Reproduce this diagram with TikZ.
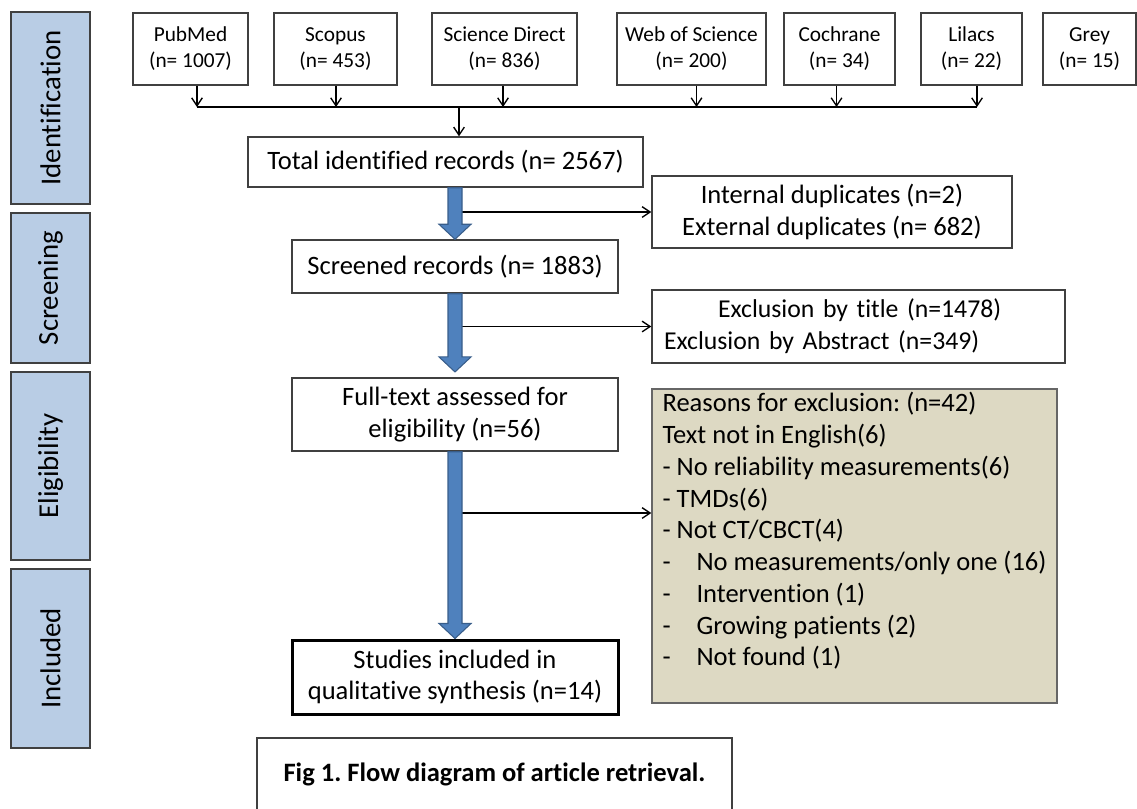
\documentclass[tikz,border=0pt]{standalone}
\usepackage{fontspec}
\setmainfont{Carlito}[Ligatures=NoCommon]
\usetikzlibrary{arrows.meta,calc}

\definecolor{boxgray}{HTML}{404040}
\definecolor{stageblue}{HTML}{B9CDE5}
\definecolor{arrowblue}{HTML}{4F81BD}
\definecolor{arrowedge}{HTML}{385D8A}
\definecolor{reasontan}{HTML}{DDD9C3}
\newdimen\pxu \pxu=0.75pt

\newcommand{\bluearrow}[2]{%
	\draw[bluearrow] ($(#1)+(-7,0)$) -- ($(#2)+(-7,-15)$) -- ($(#2)+(-16,-15)$) -- (#2) -- ($(#2)+(16,-15)$) -- ($(#2)+(7,-15)$) -- ($(#1)+(7,0)$) -- cycle;}

\begin{document}
\frenchspacing
\begin{tikzpicture}[x=0.75pt,y=-0.75pt,
		box/.style={draw=boxgray,line width=1.1pt,fill=white,inner sep=0pt,align=center,font=\fontsize{19.9}{23.8}\selectfont},
		srcbox/.style={box,minimum height=72\pxu,font=\fontsize{16}{19.5}\selectfont},
		stagebar/.style={draw=boxgray,line width=1.1pt,fill=stageblue,rotate=90,minimum height=79\pxu,inner sep=0pt,font=\fontsize{21.6}{25}\selectfont},
		thinarrow/.style={line width=1pt,-{Straight Barb[length=6pt,width=8pt]}},
		bluearrow/.style={fill=arrowblue,draw=arrowedge,line width=0.8pt}]
		\useasboundingbox (0,0) rectangle (1137,808);
		
		\node[stagebar,minimum width=192\pxu] (ident) at (50.5,108) {Identification};
		\node[stagebar,minimum width=150\pxu] (screen) at (50.5,288) {Screening};
		\node[stagebar,minimum width=188\pxu] (elig) at (50.5,466) {Eligibility};
		\node[stagebar,minimum width=179\pxu] (incl) at (50.5,658.5) {Included};
		
		\node[srcbox,minimum width=115\pxu] (pubmed) at (190.5,49) {PubMed\\(n= 1007)};
		\node[srcbox,minimum width=123\pxu] (scopus) at (335.5,49) {Scopus\\(n= 453)};
		\node[srcbox,minimum width=145\pxu] (scidir) at (504.5,49) {Science Direct\\(n= 836)};
		\node[srcbox,minimum width=149\pxu] (wos) at (691.5,49) {Web of Science\\(n= 200)};
		\node[srcbox,minimum width=111\pxu] (cochrane) at (839.5,49) {Cochrane\\(n= 34)};
		\node[srcbox,minimum width=101\pxu] (lilacs) at (971.5,49) {Lilacs\\(n= 22)};
		\node[srcbox,minimum width=93\pxu] (grey) at (1089.5,49) {Grey\\(n= 15)};
		
		\coordinate (bus) at (0,107);
		\foreach \src/\dx in {pubmed/6.5,scopus/0.5,scidir/-1.5,wos/5,cochrane/-3,lilacs/5.5}{
			\coordinate (\src-a) at ([xshift=\dx\pxu]\src.south);
			\draw[thinarrow] (\src-a) -- (\src-a |- bus);
		}
		\draw[line width=1pt] (pubmed-a |- bus) -- (lilacs-a |- bus);
		
		\node[box,minimum width=395\pxu,minimum height=50\pxu] (total) at (445.5,162) {Total identified records (n= 2567)};
		\coordinate (total-a) at ([xshift=13.5\pxu]total.north);
		\draw[thinarrow] (total-a |- bus) -- (total-a);
		
		\node[box,minimum width=326\pxu,minimum height=53\pxu] (screened) at (455,266.5) {Screened records (n= 1883)};
		\node[box,minimum width=326\pxu,minimum height=73\pxu] (fulltext) at (455,414.5) {Full-text assessed for\\eligibility (n=56)};
		\node[box,draw=black,line width=2.25pt,minimum width=326\pxu,minimum height=74\pxu] (studies) at (455,677) {Studies included in\\qualitative synthesis (n=14)};
		
		\node[box,minimum width=360\pxu,minimum height=72\pxu] (dup) at (832,212) {Internal duplicates (n=2)\\External duplicates (n= 682)};
		\node[box,align=left,text width=389\pxu,inner xsep=12\pxu,minimum height=73\pxu,font=\fontsize{19.3}{23.8}\selectfont] (excl) at (858.5,326.5) {\hspace*{54\pxu}Exclusion by title (n=1478)\\Exclusion by Abstract (n=349)};
		\node[box,fill=reasontan,draw=boxgray!80,minimum width=405\pxu,minimum height=314\pxu] (reasons) at (854.5,546) {};
		\node[anchor=north west,align=left,inner sep=0pt,font=\fontsize{19.9}{23.8}\selectfont] (reasonstext) at ([shift={(11,4)}]reasons.north west) {Reasons for exclusion: (n=42)\\Text not in English(6)\\- No reliability measurements(6)\\- TMDs(6)\\- Not CT/CBCT(4)\\\makebox[34\pxu][l]{-}No measurements/only one (16)\\\makebox[34\pxu][l]{-}Intervention (1)\\\makebox[34\pxu][l]{-}Growing patients (2)\\\makebox[34\pxu][l]{-}Not found (1)};
		
		\coordinate (elig-a) at (455,513);
		\draw[thinarrow] (dup.west -| screened.north) -- (dup.west);
		\draw[thinarrow] (excl.west -| screened.north) -- (excl.west);
		\draw[thinarrow] (elig-a) -- (elig-a -| reasons.west);
		
		\coordinate (first-a) at (total.south -| screened.north);
		\coordinate (second-a) at ([yshift=4pt]fulltext.north);
		\bluearrow{first-a}{screened.north}
		\bluearrow{screened.south}{second-a}
		\bluearrow{fulltext.south}{studies.north}
		
		\node[box,minimum width=475\pxu,minimum height=73\pxu,font=\fontsize{19.9}{23.8}\selectfont\bfseries] (caption) at (494.5,774.5) {Fig 1. Flow diagram of article retrieval.};
	\end{tikzpicture}
\end{document}
